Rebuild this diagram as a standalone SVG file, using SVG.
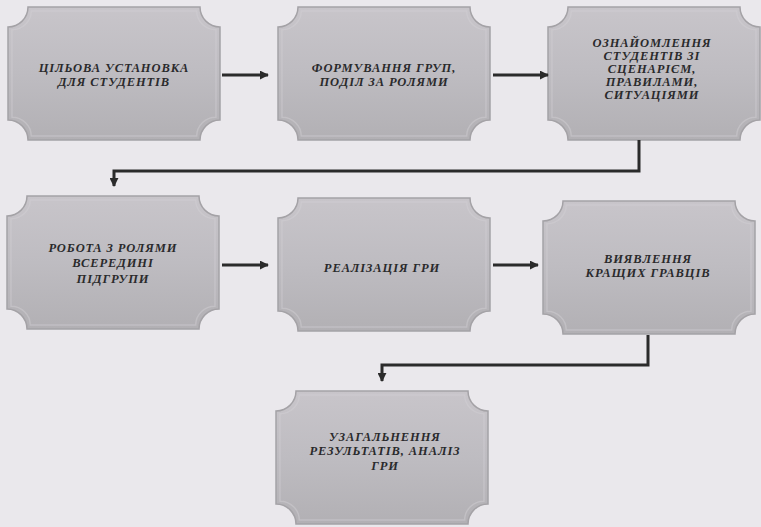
<svg xmlns="http://www.w3.org/2000/svg" width="761" height="527" viewBox="0 0 761 527">
<defs>
<linearGradient id="g" x1="0" y1="0" x2="0" y2="1">
<stop offset="0" stop-color="#c8c5ca"/>
<stop offset="0.5" stop-color="#bebcc1"/>
<stop offset="1" stop-color="#b2b0b4"/>
</linearGradient>
<marker id="ah" viewBox="0 0 10 10" refX="9" refY="5" markerWidth="3" markerHeight="3" orient="auto" markerUnits="strokeWidth">
<path d="M0,0 L10,5 L0,10 Z" fill="#2b2b2b"/>
</marker>
<path id="shape" d="M20,0 H192 A20,20 0 0 0 212,20 V113 A20,20 0 0 0 192,133 H20 A20,20 0 0 0 0,113 V20 A20,20 0 0 0 20,0 Z"/>
</defs>
<style>
.box{fill:url(#g);stroke:#a4a2a6;stroke-width:1.5}
.bev{fill:none;stroke:#d2d0d4;stroke-width:1.5;opacity:0.45}
.t{font-family:"Liberation Serif","DejaVu Serif",serif;font-weight:bold;font-style:italic;font-size:12.5px;letter-spacing:0.9px;fill:#2a2a2c;text-anchor:middle}
.c{fill:none;stroke:#2b2b2b;stroke-width:3;marker-end:url(#ah)}
</style>
<rect width="761" height="527" fill="#eae8ec"/>

<g id="n1" transform="translate(8,7)">
<use href="#shape" class="box"/>
<use href="#shape" class="bev" transform="translate(4,4) scale(0.962,0.94)"/>
<text class="t" x="106" y="65">ЦІЛЬОВА УСТАНОВКА</text>
<text class="t" x="106" y="79">ДЛЯ СТУДЕНТІВ</text>
</g>

<g id="n2" transform="translate(278,7)">
<use href="#shape" class="box"/>
<use href="#shape" class="bev" transform="translate(4,4) scale(0.962,0.94)"/>
<text class="t" x="106" y="65">ФОРМУВАННЯ ГРУП,</text>
<text class="t" x="106" y="79">ПОДІЛ ЗА РОЛЯМИ</text>
</g>

<g id="n3" transform="translate(548,7)">
<use href="#shape" class="box"/>
<use href="#shape" class="bev" transform="translate(4,4) scale(0.962,0.94)"/>
<text class="t" x="104" y="40">ОЗНАЙОМЛЕННЯ</text>
<text class="t" x="104" y="53">СТУДЕНТІВ ЗІ</text>
<text class="t" x="104" y="66">СЦЕНАРІЄМ,</text>
<text class="t" x="104" y="79">ПРАВИЛАМИ,</text>
<text class="t" x="104" y="92">СИТУАЦІЯМИ</text>
</g>

<g id="n4" transform="translate(7,196)">
<use href="#shape" class="box"/>
<use href="#shape" class="bev" transform="translate(4,4) scale(0.962,0.94)"/>
<text class="t" x="106" y="56">РОБОТА З РОЛЯМИ</text>
<text class="t" x="106" y="71">ВСЕРЕДИНІ</text>
<text class="t" x="106" y="87">ПІДГРУПИ</text>
</g>

<g id="n5" transform="translate(278,198)">
<use href="#shape" class="box"/>
<use href="#shape" class="bev" transform="translate(4,4) scale(0.962,0.94)"/>
<text class="t" x="104" y="74">РЕАЛІЗАЦІЯ ГРИ</text>
</g>

<g id="n6" transform="translate(543,201)">
<use href="#shape" class="box"/>
<use href="#shape" class="bev" transform="translate(4,4) scale(0.962,0.94)"/>
<text class="t" x="105" y="62">ВИЯВЛЕННЯ</text>
<text class="t" x="105" y="76">КРАЩИХ ГРАВЦІВ</text>
</g>

<g id="n7" transform="translate(276,391)">
<use href="#shape" class="box"/>
<use href="#shape" class="bev" transform="translate(4,4) scale(0.962,0.94)"/>
<text class="t" x="109" y="50">УЗАГАЛЬНЕННЯ</text>
<text class="t" x="109" y="64">РЕЗУЛЬТАТІВ, АНАЛІЗ</text>
<text class="t" x="109" y="79">ГРИ</text>
</g>

<g id="connectors">
<path class="c" d="M222,75 H268"/>
<path class="c" d="M493,75 H548"/>
<path class="c" d="M639,140 V171 H114 V186"/>
<path class="c" d="M222,265 H268"/>
<path class="c" d="M493,265 H538"/>
<path class="c" d="M648,335 V365 H382 V381"/>
</g>
</svg>
